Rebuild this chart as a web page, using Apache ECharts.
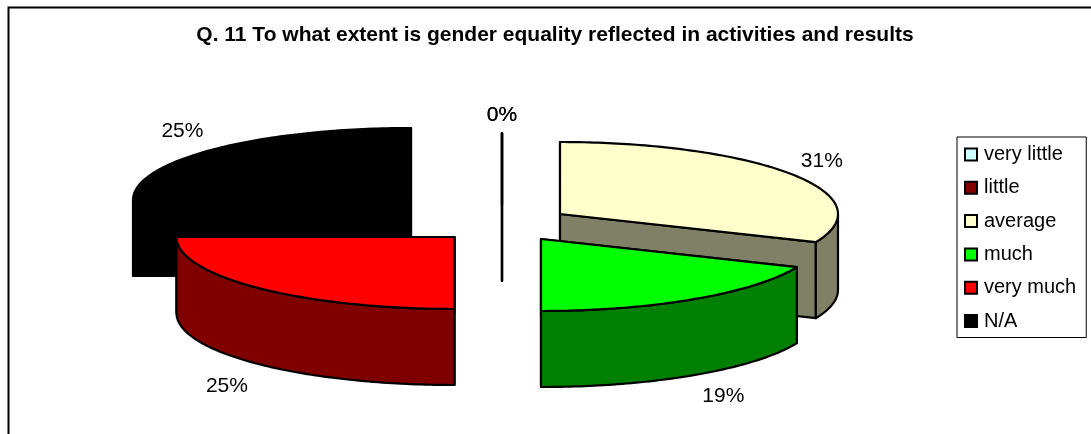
<!DOCTYPE html>
<html>
<head>
<meta charset="utf-8">
<style>html,body{margin:0;padding:0;background:#fff}#c{width:1091px;height:434px}</style>
<script src="https://cdn.jsdelivr.net/npm/echarts@6/dist/echarts.min.js"></script>
</head>
<body>
<div id="c"></div>
<script>
const titleText = 'Q. 11 To what extent is gender equality reflected in activities and results';
const categories = ['very little', 'little', 'average', 'much', 'very much', 'N/A'];
const shares = [0, 0, 31.4, 18.6, 25, 25];
const topColors = ['#CCFFFF', '#800000', '#FFFFCC', '#00FF00', '#FF0000', '#000000'];
const sideColors = ['#668080', '#400000', '#808066', '#008000', '#800000', '#000000'];
const drawOrder = [5, 0, 1, 2, 3, 4];
const explodeCentres = [[502, 205], [502, 205], [560, 214], [541, 239], [454.5, 237], [411, 200]];
const labelNudges = [[0, -18], [0, -18], [30, -13], [29, 21], [-31, 22], [-32, -18]];
const pie = {rx: 278, ry: 72, depth: 76};
const FONT = '"Liberation Sans", Arial, sans-serif';

const total = shares.reduce((a, b) => a + b, 0);
const startShare = shares.map((_, i) => shares.slice(0, i).reduce((a, b) => a + b, 0));

function arc(c, a0, a1, dy) {
  const n = Math.max(1, Math.ceil(Math.abs(a1 - a0) / (Math.PI / 180)));
  const pts = [];
  for (let k = 0; k <= n; k++) {
    const t = a0 + (a1 - a0) * k / n;
    pts.push([c[0] + pie.rx * Math.sin(t), c[1] - pie.ry * Math.cos(t) + dy]);
  }
  return pts;
}

function renderSlice(i) {
  return function (params, api) {
    const v = api.value(0);
    const c = explodeCentres[i];
    const a0 = startShare[i] / total * 2 * Math.PI;
    const a1 = a0 + v / total * 2 * Math.PI;
    const mid = (a0 + a1) / 2;
    const line = {stroke: '#000', lineWidth: 2.2, lineJoin: 'round'};
    const poly = (points, fill) => ({type: 'polygon', shape: {points}, style: Object.assign({fill}, line)});
    const children = [];
    [a0, a1].forEach(t => {
      const rim = arc(c, t, t, 0)[0];
      children.push(poly([c, rim, [rim[0], rim[1] + pie.depth], [c[0], c[1] + pie.depth]], sideColors[i]));
    });
    const w0 = Math.max(a0, Math.PI / 2), w1 = Math.min(a1, 1.5 * Math.PI);
    if (w1 > w0) {
      children.push(poly(arc(c, w0, w1, 0).concat(arc(c, w1, w0, pie.depth)), sideColors[i]));
    }
    children.push(poly([c].concat(arc(c, a0, a1, 0)), topColors[i]));
    const rimMid = arc(c, mid, mid, Math.cos(mid) > 0 ? 0 : pie.depth)[0];
    children.push({
      type: 'text', z2: 10,
      style: {
        text: Math.round(v / total * 100) + '%',
        x: rimMid[0] + labelNudges[i][0],
        y: rimMid[1] + labelNudges[i][1],
        fill: '#000', font: '21px ' + FONT, align: 'center', verticalAlign: 'middle'
      }
    });
    return {type: 'group', children};
  };
}

const series = drawOrder.map((i, order) => ({
  type: 'custom',
  name: categories[i],
  coordinateSystem: 'none',
  z: 2 + order,
  silent: true,
  itemStyle: {color: topColors[i]},
  data: [[shares[i]]],
  renderItem: renderSlice(i)
}));

const chart = echarts.init(document.getElementById('c'), null, {renderer: 'canvas'});
chart.setOption({
  animation: false,
  backgroundColor: '#fff',
  title: {
    text: titleText, left: 550, top: 20, textAlign: 'center',
    textStyle: {fontFamily: FONT, fontSize: 21, fontWeight: 'bold', color: '#000'}
  },
  legend: {
    orient: 'vertical', left: 957, top: 137, selectedMode: false,
    padding: [7.5, 10, 6.5, 7], itemWidth: 12, itemHeight: 12, itemGap: 13.3,
    borderColor: '#000', borderWidth: 1, backgroundColor: '#fff', icon: 'rect',
    textStyle: {fontFamily: FONT, fontSize: 20, color: '#000', lineHeight: 20, padding: [0, 0, 0, 2]},
    data: categories.map((name, i) => ({
      name, icon: 'rect',
      itemStyle: {color: topColors[i], borderColor: '#000', borderWidth: 2}
    }))
  },
  graphic: [{
    type: 'polyline', silent: true,
    shape: {points: [[8.5, 440], [8.5, 7.5], [1095, 7.5]]},
    style: {fill: 'none', stroke: '#000', lineWidth: 2}
  }],
  series
});
</script>
</body>
</html>
